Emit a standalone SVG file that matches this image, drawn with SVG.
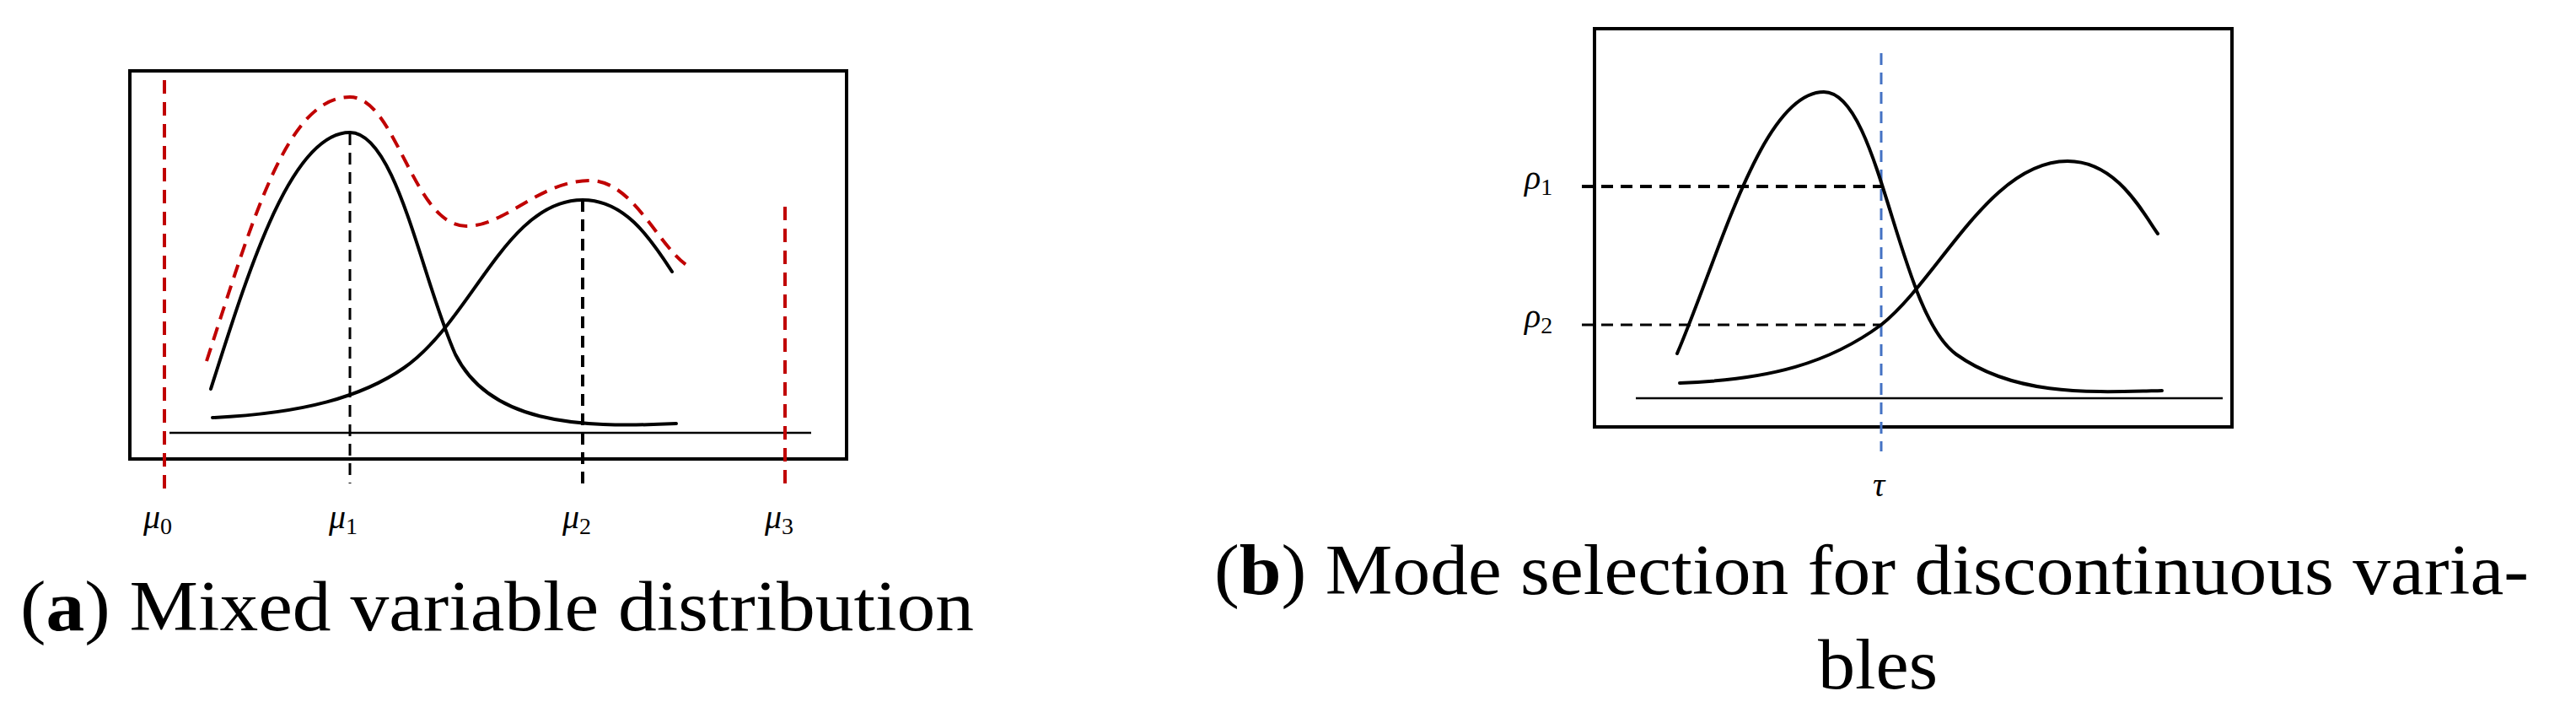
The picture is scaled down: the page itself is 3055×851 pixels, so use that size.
<svg xmlns="http://www.w3.org/2000/svg" width="3055" height="851" viewBox="0 0 3055 851">
<style>
.box{fill:none;stroke:#000;stroke-width:4}
.base{stroke:#000;stroke-width:2.5}
.curve{fill:none;stroke:#000;stroke-width:4;stroke-linecap:round}
.red{fill:none;stroke:#c00000;stroke-width:4;stroke-dasharray:16,10}
.vk{stroke:#000;stroke-width:3;stroke-dasharray:14,9}
.blue{stroke:#4472c4;stroke-width:3;stroke-dasharray:14,9}
.lab{font-family:"Liberation Serif",serif;font-style:italic;font-size:40px;fill:#000}
.cap{font-family:"Liberation Serif",serif;font-size:84px;fill:#000}
</style>
<rect width="3055" height="851" fill="#fff"/>
<g id="panel-a">
<rect class="box" x="154" y="84" width="850" height="460"/>
<line class="base" x1="201" y1="513" x2="962" y2="513"/>
<line class="red" x1="195" y1="95" x2="195" y2="581"/>
<line class="red" x1="931" y1="245" x2="931" y2="578"/>
<line class="vk" x1="415" y1="158" x2="415" y2="573"/>
<line class="vk" x1="691" y1="237" x2="691" y2="577" style="stroke-width:4"/>
<path class="curve" d="M250,461 C295,320 345,157 415,157 C470,157 500,330 540,420 C580,500 680,508 802,502"/>
<path class="curve" d="M252,495 C360,490 430,470 479,436 C560,380 600,237 691,237 C740,237 770,280 797,322"/>
<path class="red" d="M245,428 C300,260 340,115 415,115 C470,115 490,268 553,268 C600,268 640,214 700,214 C750,214 780,290 814,314"/>
<text class="lab" x="170" y="626">μ<tspan font-size="28" dy="7" font-style="normal">0</tspan></text>
<text class="lab" x="390" y="626">μ<tspan font-size="28" dy="7" font-style="normal">1</tspan></text>
<text class="lab" x="667" y="626">μ<tspan font-size="28" dy="7" font-style="normal">2</tspan></text>
<text class="lab" x="907" y="626">μ<tspan font-size="28" dy="7" font-style="normal">3</tspan></text>
<text class="cap" x="24" y="747" textLength="1131" lengthAdjust="spacingAndGlyphs">(<tspan font-weight="bold">a</tspan>) Mixed variable distribution</text>
</g>
<g id="panel-b">
<rect class="box" x="1891" y="34" width="756" height="472"/>
<line class="base" x1="1940" y1="472" x2="2636" y2="472"/>
<line class="vk" x1="1876" y1="221" x2="2231" y2="221" style="stroke-width:4"/>
<line class="vk" x1="1876" y1="385" x2="2231" y2="385"/>
<line class="blue" x1="2231" y1="63" x2="2231" y2="535"/>
<path class="curve" d="M1989,419 C2040,300 2090,109 2163,109 C2230,109 2250,370 2320,420 C2390,470 2480,465 2564,463"/>
<path class="curve" d="M1992,454 C2100,450 2170,430 2231,385 C2300,330 2360,191 2452,191 C2510,191 2540,250 2559,277"/>
<text class="lab" x="1808" y="224">ρ<tspan font-size="28" dy="7" font-style="normal">1</tspan></text>
<text class="lab" x="1808" y="388">ρ<tspan font-size="28" dy="7" font-style="normal">2</tspan></text>
<text class="lab" x="2221" y="588">τ</text>
<text class="cap" x="1440" y="704" textLength="1559" lengthAdjust="spacingAndGlyphs">(<tspan font-weight="bold">b</tspan>) Mode selection for discontinuous varia-</text>
<text class="cap" x="2156" y="816" textLength="142" lengthAdjust="spacingAndGlyphs">bles</text>
</g>
</svg>
